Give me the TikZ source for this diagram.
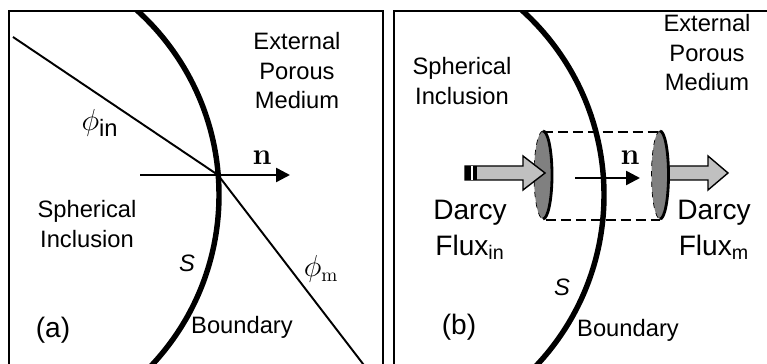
\documentclass[tikz,border=0pt]{standalone}
\usepackage{amsmath}
\usepackage[no-math]{fontspec}
\setmainfont{Liberation Sans}
\usetikzlibrary{arrows.meta}
\definecolor{LensGray}{HTML}{808080}
\definecolor{FluxGray}{HTML}{C0C0C0}
\tikzset{
  txt/.style={font=\fontsize{13.5}{16.8}\selectfont,align=center},
  bigtxt/.style={font=\fontsize{16}{20.5}\selectfont,align=center},
  frm/.style={line width=1.1pt},
  bnd/.style={line width=3.1pt},
  ray/.style={line width=1.1pt},
  nvec/.style={line width=1.4pt,-{Triangle[length=0.28cm,width=0.28cm]}},
  boxline/.style={line width=1.1pt,dash pattern=on 5.7pt off 2.8pt},
  lens/.style={fill=LensGray},
  flux/.style={draw,fill=FluxGray,line width=0.8pt}
}

\begin{document}
\begin{tikzpicture}[x=0.02cm,y=0.02cm]
  \clip (0,0) rectangle (767,364);
  % (a)
  \draw[frm] (9,-10) rectangle (383,353);
  \begin{scope} \clip (9,-10) rectangle (383,353); \draw[bnd] (-30,169) circle[radius=249]; \end{scope}
  \coordinate (src) at (13,327); \coordinate (hit) at (218,189); \coordinate (sink) at (370,-9);
  \draw[ray] (src) -- (hit) -- (sink);
  \coordinate (na) at (140,189); \coordinate (nb) at (290,189);
  \draw[nvec] (na) -- (nb);
  \node[font=\fontsize{17}{17}\selectfont] (n1) at (262,206) {$\mathbf{n}$};
  \node[txt] (ext1) at (297,293) {External\\Porous\\Medium};
  \node[txt] (sph1) at (87,140) {Spherical\\Inclusion};
  \node[font=\fontsize{16}{16}\selectfont] (phiin) at (100,241) {$\phi_{\mbox{\fontsize{13.5}{14}\selectfont in}}$};
  \node[font=\fontsize{16}{16}\selectfont] (phim) at (321,95) {$\phi_{\mathrm{m}}$};
  \node[txt] (s1) at (187,101) {\textit{S}};
  \node[txt] (bnd1) at (242,37) {Boundary};
  \node[bigtxt] (lbla) at (53,34) {(a)};
  % (b)
  \draw[frm] (394,-10) rectangle (780,353);
  \begin{scope} \clip (394,-10) rectangle (780,353); \draw[bnd] (355,169) circle[radius=249]; \end{scope}
  \node[txt] (sph2) at (462,283) {Spherical\\Inclusion};
  \node[txt] (ext2) at (707,311) {External\\Porous\\Medium};
  % control volume
  \draw[boxline] (543,232) -- (660,232);
  \draw[boxline] (546,144) -- (660,144);
  \fill[lens] (543,189) ellipse[x radius=9,y radius=44];
  \draw[dashed] (543,233) arc[start angle=90,end angle=270,x radius=9,y radius=44];
  \draw[line width=1.6pt] (543,145) arc[start angle=-90,end angle=90,x radius=9,y radius=44];
  \draw[flux] (465,184) -- (523,184) -- (523,174) -- (545,191) -- (523,208) -- (523,198) -- (465,198) -- cycle;
  \fill (465,184) rectangle (477,198); \fill[white] (471,184) rectangle (473,198);
  \draw[flux] (667,184) -- (708,184) -- (708,174) -- (728,191) -- (708,208) -- (708,198) -- (667,198) -- cycle;
  \fill[lens] (660,189) ellipse[x radius=8.5,y radius=44];
  \draw[dashed] (660,233) arc[start angle=90,end angle=270,x radius=8.5,y radius=44];
  \draw[line width=1.6pt] (660,145) arc[start angle=-90,end angle=90,x radius=8.5,y radius=44];
  \coordinate (ma) at (575,186); \coordinate (mb) at (640,186);
  \draw[nvec] (ma) -- (mb);
  \node[font=\fontsize{17}{17}\selectfont] (n2) at (630,206) {$\mathbf{n}$};
  \node[bigtxt] (flxin) at (470,134) {Darcy\\Flux\textsubscript{in}};
  \node[bigtxt] (flxm) at (714,134) {Darcy\\Flux\textsubscript{m}};
  \node[txt] (s2) at (562,77) {\textit{S}};
  \node[txt] (bnd2) at (628,34) {Boundary};
  \node[bigtxt] (lblb) at (459,37) {(b)};
\end{tikzpicture}
\end{document}
